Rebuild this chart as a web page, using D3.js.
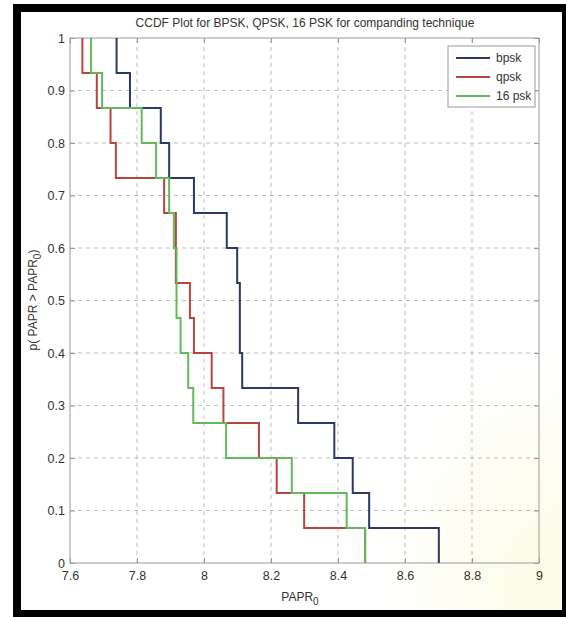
<!DOCTYPE html>
<html>
<head>
<meta charset="utf-8">
<script src="https://cdn.jsdelivr.net/npm/d3@7"></script>
<style>
  body { margin: 0; background: #fff; }
  text { font-family: "Liberation Sans", Arial, Helvetica, sans-serif; fill: #333; }
</style>
</head>
<body>
<svg id="chart" width="566" height="617"></svg>
<script>
// sorted PAPR samples (15 per scheme)
var bpsk = [7.739, 7.779, 7.871, 7.896, 7.970, 8.068, 8.099, 8.107, 8.107, 8.114, 8.281, 8.389, 8.444, 8.493, 8.701];
var qpsk = [7.637, 7.680, 7.721, 7.737, 7.881, 7.916, 7.916, 7.958, 7.970, 8.023, 8.058, 8.164, 8.217, 8.299, 8.481];
var psk16 = [7.663, 7.696, 7.814, 7.857, 7.896, 7.910, 7.918, 7.918, 7.930, 7.953, 7.968, 8.066, 8.262, 8.426, 8.481];

var seriesNames = ["bpsk", "qpsk", "16 psk"];
var seriesColors = ["#2c3866", "#b8443f", "#62b85a"];
var xTicks = [7.6, 7.8, 8, 8.2, 8.4, 8.6, 8.8, 9];
var yTicks = [0, 0.1, 0.2, 0.3, 0.4, 0.5, 0.6, 0.7, 0.8, 0.9, 1];

var svg = d3.select("#chart");

// scanned frame
svg.append("rect").attr("x", 13).attr("y", 4).attr("width", 553).attr("height", 613).style("fill", "#000");
svg.append("rect").attr("x", 21).attr("y", 12).attr("width", 541).attr("height", 598).style("fill", "#fff");

// faint cream tint of the scan in the lower right
var defs = svg.append("defs");
var grad = defs.append("radialGradient").attr("id", "tint")
    .attr("cx", 1).attr("cy", 0.9).attr("r", 0.9);
grad.append("stop").attr("offset", "0%").style("stop-color", "#fcfbe6").style("stop-opacity", 1);
grad.append("stop").attr("offset", "60%").style("stop-color", "#fdfdf0").style("stop-opacity", 0.8);
grad.append("stop").attr("offset", "100%").style("stop-color", "#fff").style("stop-opacity", 0);
svg.append("rect").attr("x", 340).attr("y", 330).attr("width", 222).attr("height", 280).style("fill", "url(#tint)");

var x = d3.scaleLinear().domain([7.6, 9]).range([70, 539]);
var y = d3.scaleLinear().domain([0, 1]).range([563, 38]);

// grid
svg.append("g").selectAll("line")
    .data(xTicks.slice(1, -1)).enter().append("line")
    .attr("x1", function(d) { return x(d); }).attr("x2", function(d) { return x(d); })
    .attr("y1", y(0)).attr("y2", y(1))
    .style("stroke", "#bdbdbd").style("stroke-width", 1).style("stroke-dasharray", "4,4");
svg.append("g").selectAll("line")
    .data(yTicks.slice(1, -1)).enter().append("line")
    .attr("y1", function(d) { return y(d); }).attr("y2", function(d) { return y(d); })
    .attr("x1", x(7.6)).attr("x2", x(9))
    .style("stroke", "#bdbdbd").style("stroke-width", 1).style("stroke-dasharray", "4,4");

// axes box
svg.append("rect")
    .attr("x", x(7.6)).attr("y", y(1))
    .attr("width", x(9) - x(7.6)).attr("height", y(0) - y(1))
    .style("fill", "none").style("stroke", "#9a9a9a").style("stroke-width", 1);

// ticks on all sides, pointing in
var xAxisB = d3.axisBottom(x).tickValues(xTicks).tickSize(-5).tickFormat(d3.format("~g"));
var xAxisT = d3.axisTop(x).tickValues(xTicks).tickSize(-5).tickFormat("");
var yAxisL = d3.axisLeft(y).tickValues(yTicks).tickSize(-5).tickFormat(d3.format("~g"));
var yAxisR = d3.axisRight(y).tickValues(yTicks).tickSize(-5).tickFormat("");

function styleAxis(g) {
    g.select(".domain").remove();
    g.selectAll(".tick line").style("stroke", "#9a9a9a");
    g.selectAll(".tick text").style("font-size", "12.5px").style("fill", "#333")
        .style("font-family", "'Liberation Sans', Arial, sans-serif");
}
svg.append("g").attr("transform", "translate(0," + y(0) + ")").call(xAxisB).call(styleAxis)
    .selectAll(".tick text").attr("dy", "0.9em").attr("y", 6);
svg.append("g").attr("transform", "translate(0," + y(1) + ")").call(xAxisT).call(styleAxis);
svg.append("g").attr("transform", "translate(" + x(7.6) + ",0)").call(yAxisL).call(styleAxis)
    .selectAll(".tick text").attr("x", -5);
svg.append("g").attr("transform", "translate(" + x(9) + ",0)").call(yAxisR).call(styleAxis);

// ccdf stairs
function stairs(vals) {
    var n = vals.length;
    var pts = [[vals[0], 1]];
    vals.forEach(function(v, i) {
        pts.push([v, 1 - (i + 1) / n]);
        if (i < n - 1) pts.push([vals[i + 1], 1 - (i + 1) / n]);
    });
    return pts;
}
var line = d3.line()
    .x(function(d) { return x(d[0]); })
    .y(function(d) { return y(d[1]); });

var allSeries = [bpsk, qpsk, psk16];
svg.append("g").selectAll("path")
    .data(allSeries).enter().append("path")
    .attr("d", function(d) { return line(stairs(d)); })
    .style("fill", "none")
    .style("stroke", function(d, i) { return seriesColors[i]; })
    .style("stroke-width", 2);

// title + labels
svg.append("text").attr("x", 305).attr("y", 27).attr("text-anchor", "middle")
    .style("font-size", "12px").text("CCDF Plot for BPSK, QPSK, 16 PSK for companding technique");

var xl = svg.append("text").attr("x", 300).attr("y", 601).attr("text-anchor", "middle").style("font-size", "12px");
xl.append("tspan").text("PAPR");
xl.append("tspan").attr("dy", 4).style("font-size", "10px").text("0");

var yl = svg.append("text").attr("transform", "translate(37,300) rotate(-90)")
    .attr("text-anchor", "middle").style("font-size", "12px");
yl.append("tspan").text("p( PAPR > PAPR");
yl.append("tspan").attr("dy", 4).style("font-size", "10px").text("0");
yl.append("tspan").attr("dy", -4).text(")");

// legend
var lg = svg.append("g");
lg.append("rect").attr("x", 448).attr("y", 46).attr("width", 87).attr("height", 61)
    .style("fill", "#fff").style("stroke", "#9a9a9a").style("stroke-width", 1);
var rows = lg.selectAll("g.row").data(seriesNames).enter().append("g")
    .attr("transform", function(d, i) { return "translate(0," + (58 + i * 19) + ")"; });
rows.append("line").attr("x1", 456).attr("x2", 490).attr("y1", 0).attr("y2", 0)
    .style("stroke", function(d, i) { return seriesColors[i]; }).style("stroke-width", 2);
rows.append("text").attr("x", 496).attr("y", 4).style("font-size", "12px").text(function(d) { return d; });
</script>
</body>
</html>
